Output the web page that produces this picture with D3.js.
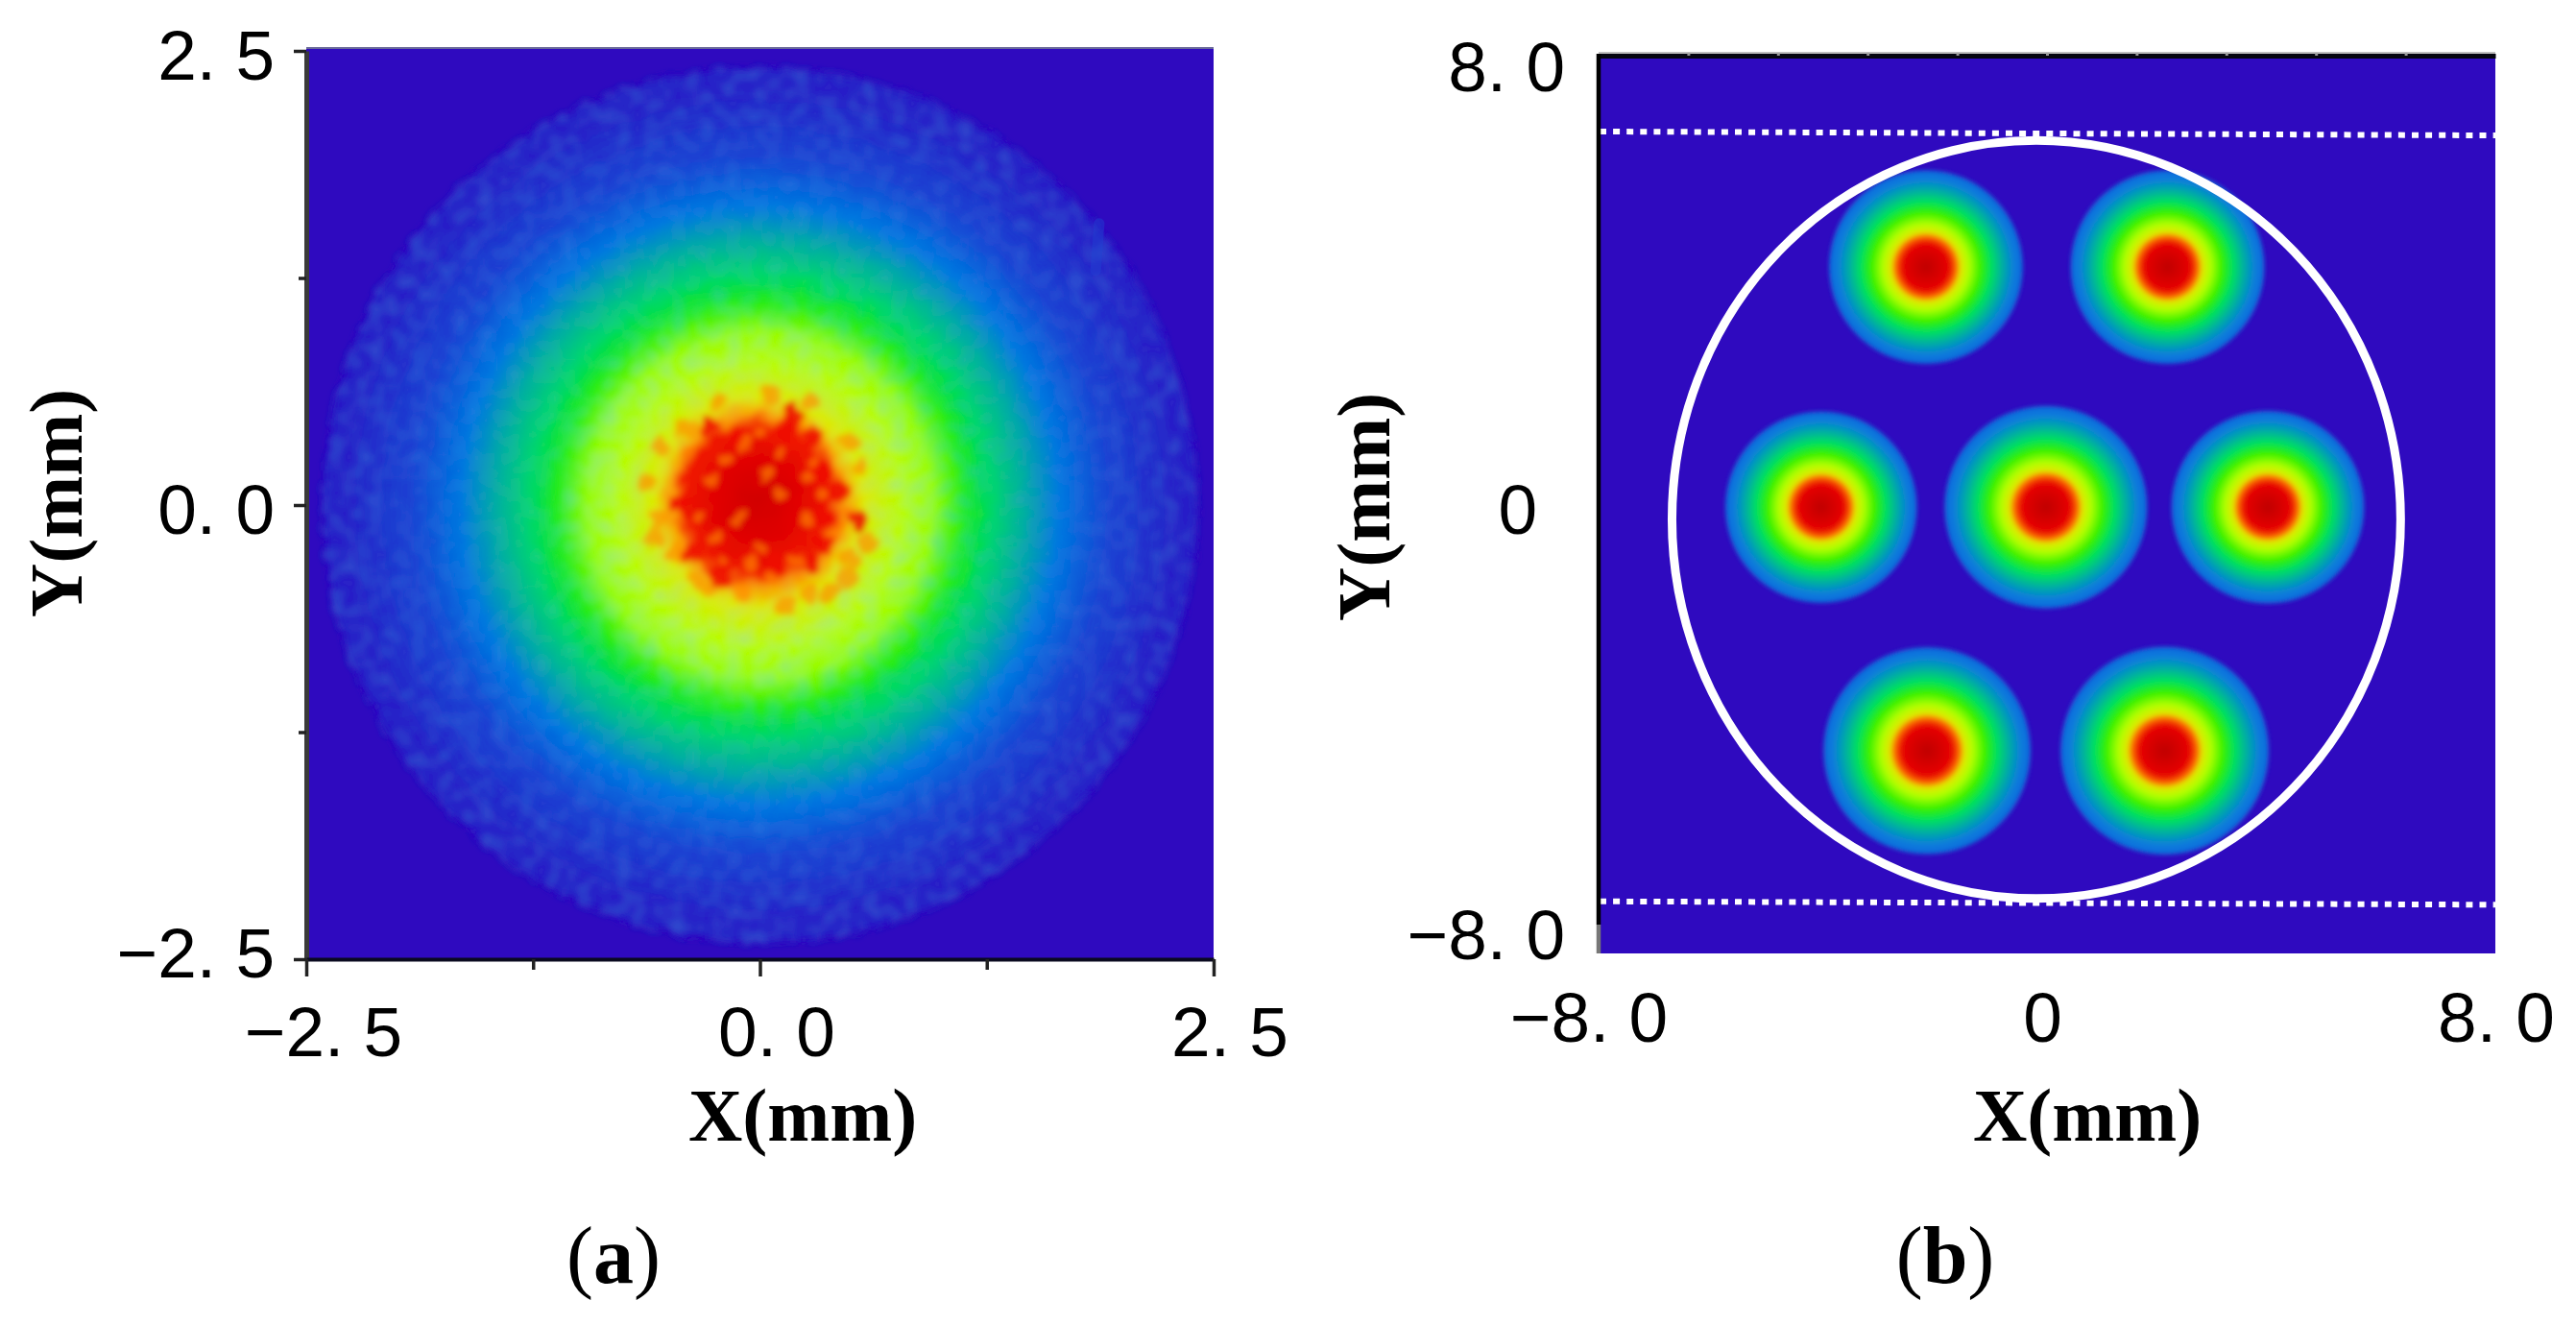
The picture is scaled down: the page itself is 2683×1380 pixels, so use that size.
<!DOCTYPE html>
<html>
<head>
<meta charset="utf-8">
<script src="https://cdn.jsdelivr.net/npm/d3@7/dist/d3.min.js"></script>
<style>
body{margin:0;background:#fff;}
svg{display:block;}
</style>
</head>
<body>
<svg id="chart" width="2683" height="1380"></svg>
<script>
//Data-----------------------------------------------------------
//colour bar, intensity level to colour
var levelStops=[0,0.08,0.18,0.3,0.42,0.52,0.6,0.7,0.77,0.84,0.92,1];
var levelColours=["#2f0abf","#2a22c8","#1f48d4","#0a78e0","#00b0a0","#00e060","#38f000","#b0ff00","#e0e800","#ff9000","#ee0800","#c00000"];

//panel a, radial profile of the measured beam
var beamRadius=[0,0.25,0.40,0.48,0.56,0.66,0.79,0.95,1.12,1.28,1.45,1.65,1.92,2.25,2.39,2.42];
var beamLevel=[0.97,0.94,0.91,0.83,0.77,0.74,0.71,0.68,0.58,0.5,0.42,0.3,0.17,0.09,0.07,0];

//panel a, speckle in the core (mm)
var lightX=[-0.28,-0.33,-0.12,0.04,0.11,0.26,0.27,0.34,-0.05,-0.19,0.05,-0.24,0.01,0.44,0.48,0.40,0.11,-0.19,0,-0.38,0.2,-0.08,0.3];
var lightY=[0.14,-0.07,-0.08,0.17,0.05,-0.07,0.15,0.06,-0.32,-0.30,-0.40,-0.17,-0.23,-0.12,-0.03,-0.17,0.29,0.25,0.39,0.3,-0.3,0.33,0.24];
var redX=[0.34,0.43,0.34,0.35,0.28,0.54,0.29,0.19,-0.28,-0.12,-0.44,-0.36,-0.2,0.1,0.15];
var redY=[0.18,0.07,-0.07,-0.22,-0.33,-0.08,0.38,0.49,0.44,0.37,0,-0.27,-0.38,-0.33,0.42];
var fringeX=[-0.54,-0.62,-0.55,-0.46,-0.28,-0.11,0.14,0.48,0.28,0.05,-0.23,0.49,0.39,-0.58,-0.4,-0.36,0.27,0.55,0.6,0.5];
var fringeY=[0.32,0.13,-0.07,-0.27,-0.47,-0.47,-0.55,-0.40,0.58,0.60,0.58,0.34,-0.47,-0.17,0.42,-0.42,-0.5,0.2,-0.2,-0.3];

//panel a, lighter streak near the rim
var streakX=[1.87,1.85];
var streakY=[1.55,1.29];

//panel b, the seven beams
var spotX=[-2.16,2.15,-4.03,-0.02,3.94,-2.14,2.10];
var spotY=[4.26,4.26,-0.03,-0.03,-0.03,-4.38,-4.38];
var spotR=[1.74,1.74,1.72,1.82,1.73,1.86,1.87];
var spotProfile=[0,0.24,0.31,0.36,0.44,0.56,0.67,0.78,0.9,0.98,1];
var spotLevel=[1,0.93,0.86,0.77,0.7,0.6,0.52,0.42,0.31,0.27,0];

//panel b, white guides
var dottedTop=[6.68,6.61];
var dottedBottom=[-7.07,-7.13];
var ringCentre=[-0.19,-0.25];
var ringRadius=[6.5,6.77];

//axes
var ticksA=[-2.5,-1.25,0,1.25,2.5];
var labelsAx=[-2.5,0,2.5];
var labelTextA=["−2. 5","0. 0","2. 5"];
var ticksBTop=[-6.4,-4.8,-3.2,-1.6,0,1.6,3.2,4.8,6.4];
var labelsB=[-8,0,8];
var labelTextB=["−8. 0","0","8. 0"];

//Scales-------------------------------------------------------
var colour=d3.scaleLinear().domain(levelStops).range(levelColours);

var xA=d3.scaleLinear().domain([-2.5,2.5]).range([319,1264]);
var yA=d3.scaleLinear().domain([-2.5,2.5]).range([999,53]);
var xB=d3.scaleLinear().domain([-8,8]).range([1665,2599]);
var yB=d3.scaleLinear().domain([-8,8]).range([993,60]);

var svg=d3.select("#chart");
var defs=svg.append("defs");

//Filters and gradients----------------------------------------
//disc: slight wobble plus a faint blotchy texture
var grain=defs.append("filter").attr("id","grain")
	.attr("x","-5%").attr("y","-5%").attr("width","110%").attr("height","110%");
grain.append("feTurbulence")
	.attr("type","fractalNoise")
	.attr("baseFrequency",0.07)
	.attr("numOctaves",2)
	.attr("seed",4)
	.attr("result","n");
grain.append("feDisplacementMap")
	.attr("in","SourceGraphic")
	.attr("in2","n")
	.attr("scale",10)
	.attr("xChannelSelector","R")
	.attr("yChannelSelector","G")
	.attr("result","d");
grain.append("feGaussianBlur").attr("in","d").attr("stdDeviation",3).attr("result","b");
grain.append("feColorMatrix").attr("in","n").attr("type","matrix")
	.attr("values","0 0 0 0 0.05  0 0 0 0 0.3  0 0 0 0 0.8  0.5 0 0 0 -0.22")
	.attr("result","t0");
grain.append("feGaussianBlur").attr("in","t0").attr("stdDeviation",3.5).attr("result","tint");
grain.append("feComposite").attr("in","tint").attr("in2","b").attr("operator","in").attr("result","spots");
var grainMerge=grain.append("feMerge");
grainMerge.append("feMergeNode").attr("in","b");
grainMerge.append("feMergeNode").attr("in","spots");

//core: stronger wobble, no tint
var core=defs.append("filter").attr("id","core")
	.attr("x","-20%").attr("y","-20%").attr("width","140%").attr("height","140%");
core.append("feTurbulence")
	.attr("type","fractalNoise")
	.attr("baseFrequency",0.06)
	.attr("numOctaves",3)
	.attr("seed",9)
	.attr("result","n");
core.append("feDisplacementMap")
	.attr("in","SourceGraphic")
	.attr("in2","n")
	.attr("scale",20)
	.attr("xChannelSelector","R")
	.attr("yChannelSelector","G")
	.attr("result","d");
core.append("feGaussianBlur").attr("in","d").attr("stdDeviation",3.2);

var soft=defs.append("filter").attr("id","soft")
	.attr("x","-20%").attr("y","-20%").attr("width","140%").attr("height","140%");
soft.append("feGaussianBlur").attr("stdDeviation",2);

function addGradient(id,offsets,levels){
	defs.append("radialGradient").attr("id",id)
		.selectAll("stop")
		.data(offsets)
		.enter()
		.append("stop")
		.attr("offset",function(d){return d;})
		.attr("stop-color",function(d,i){return colour(levels[i]);});
}
var beamMax=d3.max(beamRadius);
addGradient("beamFill",beamRadius.map(function(d){return d/beamMax;}),beamLevel);
addGradient("spotFill",spotProfile,spotLevel);
//central part without the tint, faded out into the disc
var coreOuter=0.79;
var coreFade=d3.scaleLinear().domain([0.40,coreOuter]).range([1,0]).clamp(true);
defs.append("radialGradient").attr("id","coreFill")
	.selectAll("stop")
	.data(beamRadius.filter(function(d){return d<=coreOuter;}))
	.enter()
	.append("stop")
	.attr("offset",function(d){return d/coreOuter;})
	.attr("stop-color",function(d,i){return colour(beamLevel[i]);})
	.attr("stop-opacity",function(d){return coreFade(d);});

//Panel a------------------------------------------------------
svg.append("rect")
	.attr("x",xA(-2.5))
	.attr("y",yA(2.5)-3)
	.attr("width",xA(2.5)-xA(-2.5))
	.attr("height",yA(-2.5)-yA(2.5)+3)
	.style("fill",colour(0));

svg.append("g").attr("filter","url(#grain)")
	.append("ellipse")
	.attr("cx",xA(0))
	.attr("cy",yA(0))
	.attr("rx",xA(beamMax)-xA(0))
	.attr("ry",yA(0)-yA(beamMax))
	.style("fill","url(#beamFill)");

svg.append("line")
	.attr("x1",xA(streakX[0])).attr("x2",xA(streakX[1]))
	.attr("y1",yA(streakY[0])).attr("y2",yA(streakY[1]))
	.style("stroke",colour(0.17))
	.style("stroke-width",11)
	.style("stroke-linecap","round")
	.style("opacity",0.45);

var beamA=svg.append("g").attr("filter","url(#core)");
beamA.append("ellipse")
	.attr("cx",xA(-0.016))
	.attr("cy",yA(0.026))
	.attr("rx",xA(coreOuter)-xA(0))
	.attr("ry",yA(0)-yA(coreOuter))
	.style("fill","url(#coreFill)");

function drawFlecks(xs,ys,level,size,alpha){
	beamA.append("g")
		.selectAll("circle")
		.data(xs)
		.enter()
		.append("circle")
		.attr("cx",function(d){return xA(d);})
		.attr("cy",function(d,i){return yA(ys[i]);})
		.attr("r",size)
		.style("fill",colour(level))
		.style("opacity",alpha);
}
drawFlecks(fringeX,fringeY,0.84,10,0.7);
drawFlecks(redX,redY,0.92,11,0.85);
drawFlecks(lightX,lightY,0.85,6,0.75);

svg.append("line")
	.attr("x1",xA(-2.5)).attr("x2",xA(2.5))
	.attr("y1",yA(2.5)-3).attr("y2",yA(2.5)-3)
	.style("stroke","#6a6a9a").style("stroke-width",2);

function minorA(d){return d==-1.25||d==1.25;}

var axisLeftA=svg.append("g")
	.attr("transform","translate("+xA(-2.5)+",0)")
	.call(d3.axisLeft(yA).tickValues(ticksA).tickFormat("").tickSize(13).tickSizeOuter(0));
axisLeftA.select(".domain").style("stroke","#3a3a3a").style("stroke-width",5);
axisLeftA.selectAll(".tick line")
	.attr("x2",function(d){return minorA(d)?-8:-13;})
	.style("stroke","#222").style("stroke-width",3.5);

var axisBottomA=svg.append("g")
	.attr("transform","translate(0,"+yA(-2.5)+")")
	.call(d3.axisBottom(xA).tickValues(ticksA).tickFormat("").tickSize(18).tickSizeOuter(0));
axisBottomA.select(".domain").style("stroke","#0a0a20").style("stroke-width",4);
axisBottomA.selectAll(".tick line")
	.attr("y2",function(d){return minorA(d)?11:18;})
	.style("stroke","#222").style("stroke-width",3.5);

//Panel b------------------------------------------------------
svg.append("rect")
	.attr("x",xB(-8))
	.attr("y",yB(8))
	.attr("width",xB(8)-xB(-8))
	.attr("height",yB(-8)-yB(8))
	.style("fill",colour(0));

svg.append("g").attr("filter","url(#soft)")
	.selectAll("ellipse")
	.data(spotX)
	.enter()
	.append("ellipse")
	.attr("cx",function(d){return xB(d);})
	.attr("cy",function(d,i){return yB(spotY[i]);})
	.attr("rx",function(d,i){return xB(spotR[i])-xB(0);})
	.attr("ry",function(d,i){return yB(0)-yB(spotR[i]);})
	.style("fill","url(#spotFill)");

//white ring and dotted lines
svg.append("ellipse")
	.attr("cx",xB(ringCentre[0]))
	.attr("cy",yB(ringCentre[1]))
	.attr("rx",xB(ringRadius[0])-xB(0))
	.attr("ry",yB(0)-yB(ringRadius[1]))
	.style("fill","none")
	.style("stroke","#fff")
	.style("stroke-width",9);

[dottedTop,dottedBottom].forEach(function(d){
	svg.append("line")
		.attr("x1",xB(-8)+1).attr("x2",xB(8))
		.attr("y1",yB(d[0])).attr("y2",yB(d[1]))
		.style("stroke","#fff")
		.style("stroke-width",6)
		.style("stroke-dasharray","7 7.1");
});

//frame of b, black on top and left
var topB=svg.append("g")
	.attr("transform","translate(0,"+(yB(8)-2)+")")
	.call(d3.axisTop(xB).tickValues(ticksBTop).tickFormat("").tickSize(3).tickSizeOuter(0));
topB.select(".domain").style("stroke","#050510").style("stroke-width",5);
topB.selectAll(".tick line").style("stroke","#999").style("stroke-width",3);

svg.append("line")
	.attr("x1",xB(-8)).attr("x2",xB(8))
	.attr("y1",yB(8)-5).attr("y2",yB(8)-5)
	.style("stroke","#aaa").style("stroke-width",1.5);

svg.append("line")
	.attr("x1",xB(-8)).attr("x2",xB(-8))
	.attr("y1",yB(8)-4).attr("y2",yB(-8)-30)
	.style("stroke","#000").style("stroke-width",4.5);
svg.append("line")
	.attr("x1",xB(-8)).attr("x2",xB(-8))
	.attr("y1",yB(-8)-30).attr("y2",yB(-8))
	.style("stroke","#777").style("stroke-width",4.5);

//Tick labels and titles----------------------------------------
var labelFont="'Liberation Sans',Arial,sans-serif";
var titleFont="'Liberation Serif','Times New Roman',serif";

var labelXA=d3.scaleLinear().domain([-2.5,2.5]).range([337,1281]);
var labelYA=d3.scaleLinear().domain([-2.5,0,2.5]).range([1018,556,83]);
var labelXB=d3.scaleLinear().domain([-8,8]).range([1655,2600]);
var labelYB=d3.scaleLinear().domain([-8,0,8]).range([999,556,95]);

function tickText(sel,vals,texts,xf,yf,anchor){
	sel.selectAll("text.lab")
		.data(vals)
		.enter()
		.append("text")
		.attr("class","lab")
		.attr("x",xf)
		.attr("y",yf)
		.attr("text-anchor",anchor)
		.style("font-family",labelFont)
		.style("font-size","73px")
		.style("fill","#000")
		.text(function(d,i){return texts[i];});
}
var labels=svg.append("g");
var gAx=labels.append("g"),gAy=labels.append("g"),gBx=labels.append("g"),gBy=labels.append("g");
tickText(gAx,labelsAx,labelTextA,function(d){return labelXA(d);},function(){return 1100;},"middle");
tickText(gAy,labelsAx,labelTextA,function(){return 286;},function(d){return labelYA(d);},"end");
tickText(gBx,labelsB,labelTextB,function(d){return labelXB(d);},function(){return 1085;},"middle");
tickText(gBy,labelsB,labelTextB,function(d){return d==0?1601:1630;},function(d){return labelYB(d);},"end");

function title(txt,x,y,rot){
	svg.append("text")
		.attr("transform","translate("+x+","+y+")"+(rot?" rotate(-90)":""))
		.attr("text-anchor","middle")
		.style("font-family",titleFont)
		.style("font-weight","bold")
		.style("font-size","78px")
		.style("fill","#000")
		.text(txt);
}
title("X(mm)",836,1188,false);
title("X(mm)",2174,1188,false);
title("Y(mm)",85,524,true);
title("Y(mm)",1447,528,true);

function caption(letter,x){
	var t=svg.append("text")
		.attr("x",x)
		.attr("y",1336)
		.attr("text-anchor","middle")
		.style("font-family",titleFont)
		.style("font-size","84px")
		.style("fill","#000");
	t.append("tspan").text("(");
	t.append("tspan").style("font-weight","bold").text(letter);
	t.append("tspan").text(")");
}
caption("a",639);
caption("b",2026);
</script>
</body>
</html>
